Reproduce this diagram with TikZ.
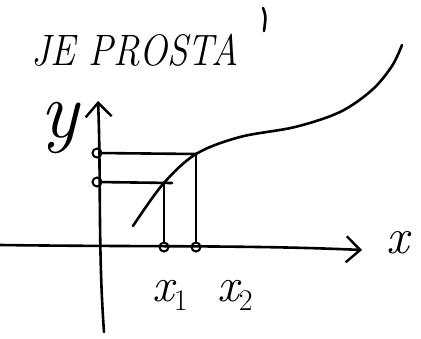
\documentclass[tikz,border=0pt]{standalone}
\usetikzlibrary{arrows.meta}
\newcommand{\subidx}[1]{\raisebox{-9pt}{\fontsize{30}{30}\selectfont\upshape #1}}
\begin{document}
\begin{tikzpicture}[x=1pt,y=-1pt,
  ink/.style={line width=2.6pt,line cap=round,line join=round},
  tip/.style={-{Straight Barb[length=14pt,width=26pt,line width=2.4pt]}},
  dot/.style={circle,draw,line width=2pt,inner sep=0pt,minimum size=9pt},
  lbl/.style={inner sep=0pt}]
\useasboundingbox (0,0) rectangle (421,338);
% axes
\coordinate (xs) at (0,245);
\coordinate (xe) at (362,250);
\coordinate (ys) at (104,332);
\coordinate (ye) at (98,101);
\draw[ink,tip] (xs) .. controls (150,247) and (250,245) .. (xe);
\draw[ink,tip] (ys) .. controls (98,250) and (101,170) .. (ye);
% curve
\draw[ink] plot[smooth,tension=0.55] coordinates {(133,226) (163,184) (196,154) (240,137) (295,127) (340,112) (372,90) (392,66) (402,45)};
% markers
\node[dot] (a1) at (97,153) {};
\node[dot] (a2) at (97,182) {};
\node[dot] (b1) at (164,247) {};
\node[dot] (b2) at (196,247) {};
\coordinate (p1) at (164,183);
\coordinate (p2) at (196,154);
\coordinate (h2) at (172,183);
\draw[ink] (a1) -- (p2);
\draw[ink] (a2) -- (h2);
\draw[ink] (p1) -- (b1);
\draw[ink] (p2) -- (b2);
% labels
\node[lbl,font=\fontsize{44}{44}\selectfont\itshape,xscale=0.85] (title) at (135,50) {JE PROSTA};
\draw[ink] (263,8) .. controls (266,16) .. (264,31);
\node[lbl,font=\fontsize{80}{80}\selectfont\itshape] (ylab) at (60,128) {y};
\node[lbl,font=\fontsize{48}{48}\selectfont\itshape] (x1) at (170,295) {x\subidx{1}};
\node[lbl,font=\fontsize{48}{48}\selectfont\itshape] (x2) at (235,295) {x\subidx{2}};
\node[lbl,font=\fontsize{50}{50}\selectfont\itshape] (xl) at (398,243) {x};
\end{tikzpicture}
\end{document}
